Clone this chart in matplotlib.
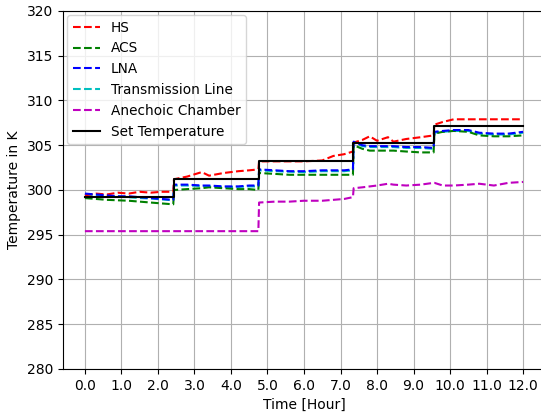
import numpy as np
import matplotlib.pyplot as plt

# time axis (hours) shared by the measured sensors
t = [0.0, 0.3, 0.6, 0.9, 1.2, 1.5, 1.8, 2.1, 2.42, 2.44, 2.8, 3.2, 3.4, 3.8, 4.2, 4.5,
     4.75, 4.77, 5.2, 5.6, 6.0, 6.5, 6.8, 7.1, 7.34, 7.36, 7.6, 7.8, 8.0, 8.3, 8.45,
     8.8, 9.2, 9.55, 9.57, 9.8, 10.1, 10.5, 10.8, 11.2, 11.6, 12.0]

hs = [299.4, 299.6, 299.5, 299.7, 299.6, 299.8, 299.7, 299.8, 299.8, 301.2, 301.5, 302.0,
      301.6, 301.9, 302.1, 302.2, 302.3, 303.2, 303.2, 303.2, 303.2, 303.3, 303.8, 304.0,
      304.3, 305.3, 305.6, 306.0, 305.5, 305.9, 305.4, 305.7, 305.9, 306.1, 307.3, 307.6,
      307.9, 307.9, 307.9, 307.9, 307.9, 307.9]

acs = [299.1, 299.0, 298.9, 298.85, 298.8, 298.7, 298.6, 298.5, 298.4, 300.0, 300.1, 300.2,
       300.3, 300.2, 300.1, 300.1, 300.0, 301.9, 301.8, 301.7, 301.7, 301.7, 301.7, 301.7,
       301.7, 305.0, 304.6, 304.4, 304.4, 304.4, 304.4, 304.3, 304.2, 304.2, 306.3, 306.5,
       306.6, 306.5, 306.1, 306.0, 306.0, 306.1]

lna = [299.6, 299.5, 299.4, 299.3, 299.3, 299.2, 299.1, 299.0, 298.9, 300.6, 300.6, 300.5,
       300.5, 300.4, 300.4, 300.5, 300.5, 302.3, 302.2, 302.1, 302.1, 302.2, 302.2, 302.2,
       302.3, 305.4, 305.0, 304.9, 304.9, 304.9, 304.9, 304.8, 304.8, 304.7, 306.5, 306.6,
       306.7, 306.7, 306.4, 306.3, 306.3, 306.5]

tline = [299.5, 299.4, 299.35, 299.25, 299.2, 299.1, 299.05, 298.95, 298.85, 300.5, 300.5,
         300.45, 300.4, 300.35, 300.35, 300.4, 300.4, 302.2, 302.1, 302.05, 302.0, 302.1,
         302.1, 302.1, 302.2, 305.3, 304.9, 304.8, 304.8, 304.8, 304.8, 304.7, 304.7, 304.6,
         306.4, 306.5, 306.6, 306.6, 306.3, 306.2, 306.2, 306.4]

chamber = [295.4, 295.4, 295.4, 295.4, 295.4, 295.4, 295.4, 295.4, 295.4, 295.4, 295.4,
           295.4, 295.4, 295.4, 295.4, 295.4, 295.4, 298.6, 298.7, 298.7, 298.8, 298.8,
           298.9, 299.0, 299.2, 300.2, 300.3, 300.4, 300.5, 300.7, 300.6, 300.5, 300.6,
           300.8, 300.8, 300.5, 300.5, 300.6, 300.7, 300.5, 300.8, 300.9]

# set-point profile
set_t = [0.0, 2.43, 4.76, 7.35, 9.56, 12.0]
set_temp = [299.2, 301.2, 303.2, 305.2, 307.2, 307.2]

fig = plt.figure(figsize=(5.41, 4.12), dpi=100)
ax = fig.add_axes([63 / 541, 1 - 369 / 412, 482 / 541, 358 / 412])

ax.plot(t, hs, '--', color='red', label='HS')
ax.plot(t, acs, '--', color='green', label='ACS')
ax.plot(t, lna, '--', color='blue', label='LNA')
ax.plot(t, tline, '--', color='c', label='Transmission Line', zorder=1.9)
ax.plot(t, chamber, '--', color='m', label='Anechoic Chamber')
ax.plot(set_t, set_temp, '-', color='black', drawstyle='steps-post', label='Set Temperature')

ax.set_xticks(np.arange(0, 13, 1))
ax.set_xticklabels([f'{v:.1f}' for v in np.arange(0, 13, 1)])
ax.set_ylim(280, 320)
ax.set_xlim(-0.6, 12.6)
ax.grid(True)
ax.set_xlabel('Time [Hour]')
ax.set_ylabel('Temperature in K')
ax.legend(loc='upper left', fontsize=9.8, borderaxespad=0.3)

fig.savefig('out.png', dpi=100)
